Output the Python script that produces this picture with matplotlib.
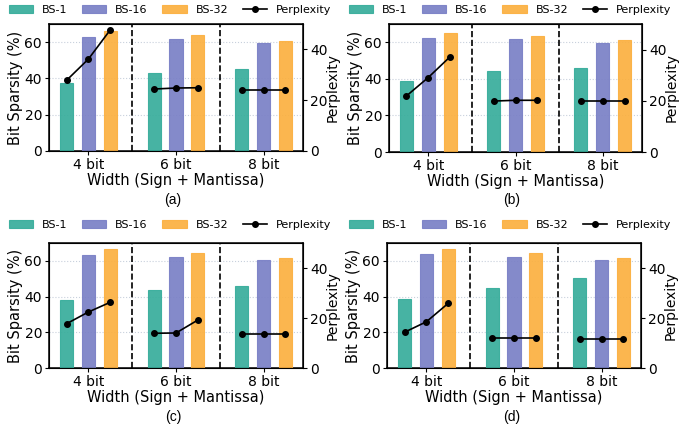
import matplotlib
matplotlib.use("Agg")
import matplotlib.pyplot as plt
import numpy as np

groups = ["4 bit", "6 bit", "8 bit"]
series = ["BS-1", "BS-16", "BS-32"]
colors = ["#37ad9b", "#7a80c6", "#fbb040"]

# bit sparsity (%) per panel: rows = groups, cols = BS-1, BS-16, BS-32
sparsity_a = [[37.3, 62.6, 65.9], [43.2, 61.5, 63.7], [45.0, 59.4, 60.9]]
sparsity_b = [[38.7, 62.4, 65.2], [44.2, 61.7, 63.5], [46.2, 59.8, 61.1]]
sparsity_c = [[38.0, 63.5, 66.5], [43.9, 62.2, 64.2], [45.8, 60.6, 61.8]]
sparsity_d = [[38.8, 63.7, 66.5], [44.7, 62.4, 64.4], [50.2, 60.4, 61.8]]

# perplexity per panel: rows = groups, cols = BS-1, BS-16, BS-32
ppl_a = [[27.8, 36.2, 47.7], [24.4, 24.8, 24.9], [24.1, 24.1, 24.1]]
ppl_b = [[21.9, 29.1, 37.2], [19.9, 20.2, 20.2], [19.9, 19.9, 19.9]]
ppl_c = [[17.7, 22.4, 26.3], [13.9, 14.0, 19.2], [13.7, 13.7, 13.7]]
ppl_d = [[14.3, 18.5, 25.9], [11.9, 11.9, 11.9], [11.7, 11.7, 11.7]]

captions = ["(a)", "(b)", "(c)", "(d)"]

W, H = 680, 430
fig = plt.figure(figsize=(6.8, 4.3), dpi=100)

# axes boxes in pixels: left, top, right, bottom
boxes = [(49, 24, 303, 151), (389, 24, 642, 152),
         (49, 243, 303, 368), (387, 243, 641, 368)]
legend_xy = [(170, 10), (510, 10), (170, 225), (510, 225)]
caption_xy = [(173, 200), (512, 200), (173, 417), (512, 417)]

data = [(sparsity_a, ppl_a), (sparsity_b, ppl_b), (sparsity_c, ppl_c), (sparsity_d, ppl_d)]

x = np.arange(len(groups))
offsets = [-0.25, 0.0, 0.25]
width = 0.15

for k, (spars, ppl) in enumerate(data):
    l, t, r, b = boxes[k]
    ax = fig.add_axes([l / W, 1 - b / H, (r - l) / W, (b - t) / H])
    spars = np.array(spars)
    ppl = np.array(ppl)
    handles = []
    for j in range(3):
        h = ax.bar(x + offsets[j], spars[:, j], width, color=colors[j],
                   edgecolor=colors[j], linewidth=0.8, alpha=0.92, label=series[j], zorder=3)
        handles.append(h)
    ax.set_ylim(0, 70)
    ax.set_xlim(-0.45, 2.45)
    ax.set_yticks([0, 20, 40, 60])
    ax.set_xticks(x)
    ax.set_xticklabels(groups)
    ax.yaxis.grid(True, linestyle=":", color="#c8d0dc", linewidth=0.8, zorder=0)
    ax.set_axisbelow(True)
    for xv in [0.5, 1.5]:
        ax.axvline(xv, color="black", linestyle="--", linewidth=1.2, zorder=4)
    ax.set_ylabel("Bit Sparsity (%)", fontsize=10.5, labelpad=1)
    ax.set_xlabel("Width (Sign + Mantissa)", fontsize=10.5, labelpad=1)
    ax.tick_params(labelsize=10, length=3, pad=2)
    for s in ax.spines.values():
        s.set_linewidth(1.1)

    ax2 = ax.twinx()
    for g in range(3):
        ln, = ax2.plot(x[g] + np.array(offsets), ppl[g], color="black", marker="o",
                       markersize=4, linewidth=1.2, label="Perplexity", zorder=5)
    ax2.set_ylim(0, 50)
    ax2.set_yticks([0, 20, 40])
    ax2.set_ylabel("Perplexity", fontsize=10, labelpad=-1)
    ax2.tick_params(labelsize=10, length=3, pad=2)

    lx, ly = legend_xy[k]
    fig.legend(handles + [ln], series + ["Perplexity"], loc="center",
               bbox_to_anchor=(lx / W, 1 - ly / H), ncol=4, frameon=False,
               fontsize=8, handlelength=2.2, columnspacing=1.3, handletextpad=0.8)

    cx, cy = caption_xy[k]
    fig.text(cx / W, 1 - cy / H, captions[k], ha="center", va="center",
             fontsize=10, family="Liberation Sans")

fig.savefig("out.png", dpi=100)
